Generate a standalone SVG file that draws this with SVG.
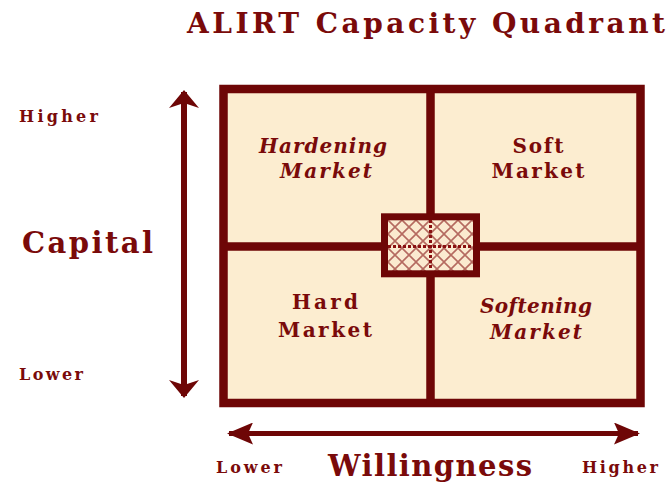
<svg xmlns="http://www.w3.org/2000/svg" width="669" height="482" viewBox="0 0 669 482">
  <style>
    .t { font-family: "DejaVu Serif", "Liberation Serif", serif; font-weight: bold; fill: #7a0a0a; }
    .q { font-size: 20px; text-anchor: middle; }
    .it { font-style: italic; }
    .small { font-size: 16px; }
    .big { font-size: 29px; }
    .frame { fill: #fcedd0; stroke: #6e0606; stroke-width: 8.5; }
    .div { stroke: #6e0606; stroke-width: 8.5; }
    .axis { stroke: #6e0606; fill: none; }
  </style>
  <defs>
    <!-- diamond lattice with a dotted cross for the centre block -->
    <pattern id="lattice" patternUnits="userSpaceOnUse" x="388" y="220" width="14" height="14">
      <rect width="14" height="14" fill="#fbead0"/>
      <path d="M0,0 L14,14 M14,0 L0,14" stroke="#b56a60" stroke-width="1.6" fill="none"/>
    </pattern>
    <marker id="headH" markerUnits="userSpaceOnUse" viewBox="0 0 26 22" refX="24" refY="11" markerWidth="26" markerHeight="22" orient="auto-start-reverse">
      <path d="M0,0 L26,11 L0,22 L5,11 Z" fill="#6e0606"/>
    </marker>
    <marker id="headV" markerUnits="userSpaceOnUse" viewBox="0 0 18 30" refX="16" refY="15" markerWidth="18" markerHeight="30" orient="auto-start-reverse">
      <path d="M0,0 L18,15 L0,30 L5,15 Z" fill="#6e0606"/>
    </marker>
  </defs>

  <rect width="669" height="482" fill="#ffffff"/>

  <text class="t" x="187" y="33" font-size="28" textLength="478" lengthAdjust="spacing">ALIRT Capacity Quadrant</text>

  <g id="quadrant-frame">
    <rect class="frame" x="223.5" y="89" width="417" height="314"/>
    <line class="div" x1="430.5" y1="89" x2="430.5" y2="403"/>
    <line class="div" x1="223.5" y1="246.5" x2="640.5" y2="246.5"/>
  </g>

  <g id="hardening">
    <text class="t q it" x="323" y="153" textLength="128" lengthAdjust="spacing">Hardening</text>
    <text class="t q it" x="326" y="178" textLength="92" lengthAdjust="spacing">Market</text>
  </g>
  <g id="soft">
    <text class="t q" x="538" y="153" textLength="51" lengthAdjust="spacing">Soft</text>
    <text class="t q" x="538" y="178" textLength="93" lengthAdjust="spacing">Market</text>
  </g>
  <g id="hard">
    <text class="t q" x="325" y="309" textLength="66" lengthAdjust="spacing">Hard</text>
    <text class="t q" x="325" y="337" textLength="94" lengthAdjust="spacing">Market</text>
  </g>
  <g id="softening">
    <text class="t q it" x="536" y="313" textLength="112" lengthAdjust="spacing">Softening</text>
    <text class="t q it" x="536" y="339" textLength="92" lengthAdjust="spacing">Market</text>
  </g>

  <g id="centre-block">
    <rect x="384.5" y="216.8" width="92" height="57" fill="url(#lattice)" stroke="#6e0606" stroke-width="7"/>
    <path d="M388,246.5 H473 M430.5,220 V270" stroke="#8a1010" stroke-width="3" stroke-dasharray="3 2" fill="none"/>
  </g>

  <g id="connectors">
    <line class="axis" x1="184" y1="92" x2="184" y2="396" stroke-width="6" marker-start="url(#headV)" marker-end="url(#headV)"/>
    <line class="axis" x1="229" y1="433.5" x2="638" y2="433.5" stroke-width="5" marker-start="url(#headH)" marker-end="url(#headH)"/>
  </g>

  <g id="axis-labels">
    <text class="t small" x="19" y="122" textLength="79" lengthAdjust="spacing">Higher</text>
    <text class="t small" x="19" y="380" textLength="64" lengthAdjust="spacing">Lower</text>
    <text class="t big" x="22" y="253" textLength="131" lengthAdjust="spacing">Capital</text>
    <text class="t small" x="216" y="473" textLength="66" lengthAdjust="spacing">Lower</text>
    <text class="t big" x="328" y="476" textLength="204" lengthAdjust="spacing">Willingness</text>
    <text class="t small" x="582" y="473" textLength="76" lengthAdjust="spacing">Higher</text>
  </g>
</svg>
